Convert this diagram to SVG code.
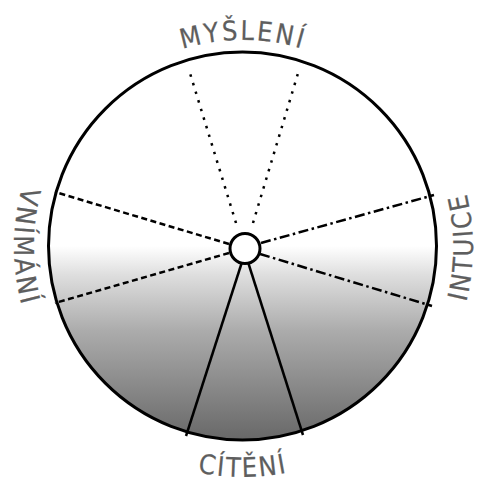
<svg xmlns="http://www.w3.org/2000/svg" width="479" height="483" viewBox="0 0 479 483">
<style>
.lbl{font-family:"DejaVu Sans Condensed","DejaVu Sans","Liberation Sans",sans-serif;font-stretch:condensed;font-size:27px;fill:#5e5e5e;stroke:#5e5e5e;stroke-width:0.2}
.ln{fill:none;stroke:#000;stroke-width:2.5}
.dot{stroke-dasharray:2.5 6.5}
.dash{stroke-dasharray:6 3.5}
.dd{stroke-dasharray:10 3.5 2.5 3.5}
</style>
<defs>
<linearGradient id="g" gradientUnits="userSpaceOnUse" x1="0" y1="52" x2="0" y2="440">
<stop offset="0.5" stop-color="#ffffff"/>
<stop offset="0.575" stop-color="#dedede"/>
<stop offset="0.72" stop-color="#ababab"/>
<stop offset="1" stop-color="#686868"/>
</linearGradient>
<path id="pTop" d="M 36 247 A 207 207 0 0 1 450 247"/>
<path id="pBot" d="M 13 247 A 230 230 0 0 0 473 247"/>
<path id="pLeft" d="M 243 18 A 229 229 0 0 0 243 476"/>
<path id="pRight" d="M 243 477 A 230 230 0 0 0 243 17"/>
</defs>
<g id="wheel">
<circle cx="242.5" cy="246" r="194" fill="url(#g)"/>
</g>
<g id="connectors">
<line class="ln dot" x1="236" y1="223" x2="189" y2="70"/>
<line class="ln dot" x1="253" y1="223" x2="299" y2="70"/>
<line class="ln dash" x1="229" y1="244" x2="55" y2="192"/>
<line class="ln dash" x1="229" y1="253" x2="55" y2="303"/>
<line class="ln dd" x1="261" y1="243" x2="434" y2="195"/>
<line class="ln dd" x1="260" y1="254" x2="432" y2="306"/>
<line class="ln" x1="242" y1="262" x2="186" y2="436"/>
<line class="ln" x1="248" y1="262" x2="303" y2="435"/>
</g>
<g id="outline">
<circle cx="242.5" cy="246" r="194" fill="none" stroke="#000" stroke-width="3"/>
</g>
<g id="center">
<circle cx="245" cy="248.5" r="15" fill="#fff" stroke="#000" stroke-width="3"/>
</g>
<g id="label-mysleni">
<text class="lbl"><textPath href="#pTop" startOffset="50%" text-anchor="middle" letter-spacing="2.5">MYŠLENÍ</textPath></text>
</g>
<g id="label-citeni">
<text class="lbl"><textPath href="#pBot" startOffset="50%" text-anchor="middle" letter-spacing="2">CÍTĚNÍ</textPath></text>
</g>
<g id="label-vnimani">
<text class="lbl"><textPath href="#pLeft" startOffset="50%" text-anchor="middle" letter-spacing="2.5">VNÍMÁNÍ</textPath></text>
</g>
<g id="label-intuice">
<text class="lbl"><textPath href="#pRight" startOffset="50%" text-anchor="middle" letter-spacing="2">INTUICE</textPath></text>
</g>
</svg>
